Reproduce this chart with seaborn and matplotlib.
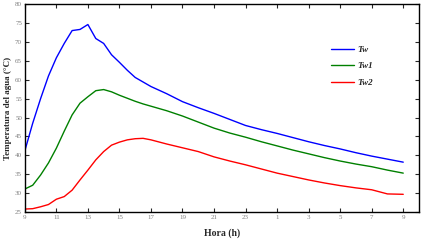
import pandas as pd
import seaborn as sns
import matplotlib.pyplot as plt

# Hours since 9:00 of the first day (33 = 9:00 next day)
hours = [9, 9.5, 10, 10.5, 11, 11.5, 12, 12.5, 13, 13.5, 14, 14.5, 15, 15.5, 16, 16.5, 17,
         18, 19, 20, 21, 22, 23, 24, 25, 26, 27, 28, 29, 30, 31, 32, 33]

tw = [41.2, 48.5, 55.0, 61.0, 65.8, 69.6, 73.0, 73.3, 74.6, 70.9, 69.6, 66.6, 64.6, 62.5, 60.6, 59.4, 58.2,
      56.3, 54.2, 52.6, 51.1, 49.5, 47.9, 46.8, 45.8, 44.7, 43.6, 42.6, 41.7, 40.7, 39.8, 39.0, 38.2]
tw1 = [31.1, 32.1, 34.8, 38.0, 41.9, 46.4, 50.7, 53.8, 55.5, 57.1, 57.4, 56.8, 55.9, 55.1, 54.3, 53.6, 53.0,
       51.8, 50.4, 48.8, 47.2, 45.9, 44.8, 43.6, 42.5, 41.4, 40.4, 39.4, 38.5, 37.7, 37.0, 36.1, 35.3]
tw2 = [25.8, 25.9, 26.4, 27.0, 28.4, 29.1, 30.8, 33.5, 36.1, 38.8, 41.0, 42.7, 43.5, 44.1, 44.4, 44.5, 44.1,
       43.0, 42.0, 41.0, 39.6, 38.5, 37.5, 36.4, 35.3, 34.4, 33.5, 32.7, 32.0, 31.4, 30.9, 29.8, 29.7]

series_names = ['Tw', 'Tw1', 'Tw2']
series_colors = ['#0000ff', '#008000', '#ff0000']

x_ticks = [9, 11, 13, 15, 17, 19, 21, 23, 25, 27, 29, 31, 33]
x_tick_labels = ['9', '11', '13', '15', '17', '19', '21', '23', '1', '3', '5', '7', '9']
y_ticks = [25, 30, 35, 40, 45, 50, 55, 60, 65, 70, 75, 80]

df = pd.DataFrame({
    'Hora': hours * 3,
    'Temp': tw + tw1 + tw2,
    'Serie': [s for s in series_names for _ in hours],
})

sns.set_style('white')
plt.rcParams['font.family'] = ['Liberation Serif', 'DejaVu Serif']

fig = plt.figure(figsize=(4.28, 2.41), dpi=100)
ax = fig.add_axes([0.058, 0.12, 0.921, 0.863])

sns.lineplot(data=df, x='Hora', y='Temp', hue='Serie', palette=series_colors,
             linewidth=1.0, ax=ax)

ax.set_xlim(9, 34)
ax.set_ylim(25, 80)
ax.set_xticks(x_ticks)
ax.set_xticklabels(x_tick_labels)
ax.set_yticks(y_ticks)
ax.set_yticklabels([str(v) for v in y_ticks])
ax.tick_params(axis='both', direction='in', length=3, width=0.8, labelsize=5,
               labelcolor='#808080', top=True, right=True, bottom=True, left=True, pad=2)

for sp in ax.spines.values():
    sp.set_color('black')
    sp.set_linewidth(1.0)

ax.set_xlabel('Hora (h)', fontsize=7, fontweight='bold', labelpad=6)
ax.set_ylabel('Temperatura del agua (°C)', fontsize=6.5, fontweight='bold', labelpad=2)

leg = ax.legend(loc='upper left', bbox_to_anchor=(0.755, 0.84), frameon=False,
                handlelength=2.6, labelspacing=0.9, handletextpad=0.4,
                prop={'family': 'Liberation Serif', 'style': 'italic', 'weight': 'bold', 'size': 6.5})

fig.savefig('out.png', dpi=100)
